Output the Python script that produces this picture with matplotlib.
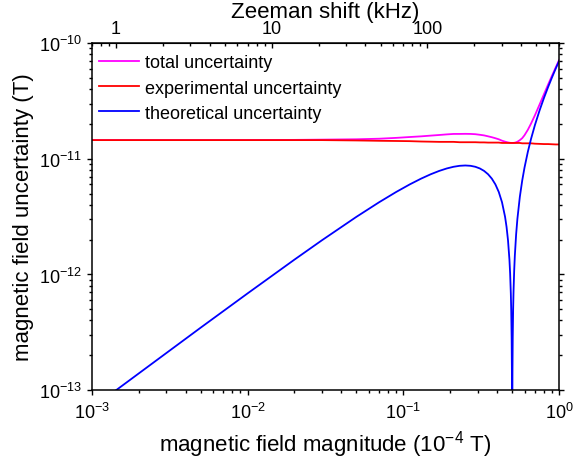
import numpy as np
import matplotlib
matplotlib.use("Agg")
import matplotlib.pyplot as plt
from matplotlib.ticker import LogLocator, NullFormatter, FixedLocator, FixedFormatter

plt.rcParams["font.family"] = ["Liberation Sans", "DejaVu Sans"]
plt.rcParams["mathtext.fontset"] = "custom"
plt.rcParams["mathtext.rm"] = "Liberation Sans"
plt.rcParams["mathtext.default"] = "regular"

# ------------------------------------------------------------
# Data
# ------------------------------------------------------------
# magnetic field magnitude, units of 1e-4 T
field = [0.001, 0.002, 0.005, 0.01, 0.02, 0.03, 0.05, 0.07, 0.09, 0.11,
         0.13, 0.15, 0.17, 0.19, 0.21, 0.23, 0.25, 0.27, 0.29, 0.31,
         0.33, 0.35, 0.37, 0.39, 0.41, 0.43, 0.45, 0.46, 0.47, 0.48,
         0.485, 0.49, 0.493, 0.496, 0.498, 0.4995, 0.5005, 0.502, 0.504, 0.507,
         0.51, 0.515, 0.52, 0.53, 0.54, 0.56, 0.58, 0.6, 0.63, 0.66,
         0.7, 0.75, 0.8, 0.85, 0.9, 0.95, 1.0]

# theoretical uncertainty (T)
theoretical = [6.99e-14, 1.394e-13, 3.47e-13, 6.86e-13, 1.344e-12, 1.974e-12,
               3.15e-12, 4.214e-12, 5.166e-12, 6.006e-12, 6.734e-12, 7.35e-12,
               7.854e-12, 8.246e-12, 8.526e-12, 8.694e-12, 8.75e-12, 8.694e-12,
               8.526e-12, 8.246e-12, 7.854e-12, 7.35e-12, 6.734e-12, 6.006e-12,
               5.166e-12, 4.214e-12, 3.15e-12, 2.576e-12, 1.974e-12, 1.344e-12,
               1.0185e-12, 6.86e-13, 4.83e-13, 2.78e-13, 1.39e-13, 3.5e-14,
               3.5e-14, 1.406e-13, 2.82e-13, 4.97e-13, 7.14e-13, 1.0815e-12,
               1.456e-12, 2.226e-12, 3.024e-12, 4.704e-12, 6.496e-12, 8.4e-12,
               1.1466e-11, 1.4784e-11, 1.96e-11, 2.625e-11, 3.36e-11, 4.165e-11,
               5.04e-11, 5.985e-11, 7.0e-11]

# experimental uncertainty (T)
experimental = [1.45e-11, 1.45e-11, 1.45e-11, 1.45e-11, 1.45e-11, 1.45e-11,
                1.44e-11, 1.43e-11, 1.425e-11, 1.42e-11, 1.41e-11, 1.405e-11,
                1.40e-11, 1.40e-11, 1.40e-11, 1.39e-11, 1.39e-11, 1.39e-11,
                1.39e-11, 1.385e-11, 1.385e-11, 1.38e-11, 1.38e-11, 1.38e-11,
                1.38e-11, 1.37e-11, 1.37e-11, 1.37e-11, 1.37e-11, 1.37e-11,
                1.37e-11, 1.37e-11, 1.37e-11, 1.37e-11, 1.37e-11, 1.37e-11,
                1.37e-11, 1.37e-11, 1.37e-11, 1.37e-11, 1.37e-11, 1.37e-11,
                1.37e-11, 1.37e-11, 1.37e-11, 1.37e-11, 1.36e-11, 1.36e-11,
                1.36e-11, 1.36e-11, 1.35e-11, 1.345e-11, 1.34e-11, 1.34e-11,
                1.335e-11, 1.33e-11, 1.33e-11]

# total uncertainty (T)
total = [1.45e-11, 1.45e-11, 1.45e-11, 1.4516e-11, 1.4562e-11, 1.4634e-11,
         1.474e-11, 1.4908e-11, 1.5158e-11, 1.5418e-11, 1.5626e-11, 1.5856e-11,
         1.6053e-11, 1.6248e-11, 1.6392e-11, 1.6395e-11, 1.6425e-11, 1.6395e-11,
         1.6307e-11, 1.6119e-11, 1.5922e-11, 1.5635e-11, 1.5355e-11, 1.505e-11,
         1.4735e-11, 1.4333e-11, 1.4057e-11, 1.394e-11, 1.3842e-11, 1.3766e-11,
         1.3738e-11, 1.3717e-11, 1.3709e-11, 1.3703e-11, 1.3701e-11, 1.37e-11,
         1.37e-11, 1.3701e-11, 1.3703e-11, 1.3709e-11, 1.3719e-11, 1.3743e-11,
         1.3777e-11, 1.388e-11, 1.403e-11, 1.4485e-11, 1.5072e-11, 1.5985e-11,
         1.7789e-11, 2.0088e-11, 2.3799e-11, 2.9495e-11, 3.6173e-11, 4.3753e-11,
         5.2138e-11, 6.131e-11, 7.1252e-11]

zeeman_ticks = [1, 10, 100]
zeeman_labels = ["1", "10", "100"]
khz_per_unit = 700.0  # Zeeman shift (kHz) per 1e-4 T

# ------------------------------------------------------------
# Plot
# ------------------------------------------------------------
fig = plt.figure(figsize=(5.74, 4.64), dpi=100)
ax = fig.add_axes([0.160, 0.157, 0.814, 0.748])

ax.plot(field, total, color="#FF00FF", lw=1.3, label="total uncertainty")
ax.plot(field, experimental, color="#FF0000", lw=1.3, label="experimental uncertainty")
ax.plot(field, theoretical, color="#0000FF", lw=1.3, label="theoretical uncertainty")

ax.set_xscale("log")
ax.set_yscale("log")
ax.set_xlim(1e-3, 1.0)
ax.set_ylim(1e-13, 1e-10)

ax.set_xlabel("magnetic field magnitude (10$^{-4}$ T)", fontsize=16, labelpad=4)
ax.set_ylabel("magnetic field uncertainty (T)", fontsize=16, labelpad=4)

for s in ax.spines.values():
    s.set_linewidth(1.1)

ax.xaxis.set_minor_locator(LogLocator(base=10, subs=np.arange(2, 10)))
ax.yaxis.set_minor_locator(LogLocator(base=10, subs=np.arange(2, 10)))
ax.xaxis.set_minor_formatter(NullFormatter())
ax.yaxis.set_minor_formatter(NullFormatter())
ax.tick_params(which="both", direction="out", labelsize=13, width=1.0)
ax.tick_params(which="major", length=3.8)
ax.tick_params(which="minor", length=2.2)
ax.tick_params(axis="y", which="both", right=True, pad=3)
ax.tick_params(axis="x", pad=5)

top = ax.secondary_xaxis("top", functions=(lambda b: b * khz_per_unit,
                                           lambda f: f / khz_per_unit))
top.xaxis.set_major_locator(FixedLocator(zeeman_ticks))
top.xaxis.set_major_formatter(FixedFormatter(zeeman_labels))
top.xaxis.set_minor_locator(LogLocator(base=10, subs=np.arange(2, 10)))
top.xaxis.set_minor_formatter(NullFormatter())
top.tick_params(which="both", direction="in", labelsize=13, width=1.0, pad=4.3)
top.tick_params(which="major", length=3.8)
top.tick_params(which="minor", length=2.2)
top.set_xlabel("Zeeman shift (kHz)", fontsize=16, labelpad=2)

ax.legend(loc="upper left", bbox_to_anchor=(0.0, 0.988), frameon=False,
          fontsize=13, handlelength=2.2, handletextpad=0.33, labelspacing=0.45,
          borderaxespad=0.0, borderpad=0.4)

fig.savefig("out.png", dpi=100)
